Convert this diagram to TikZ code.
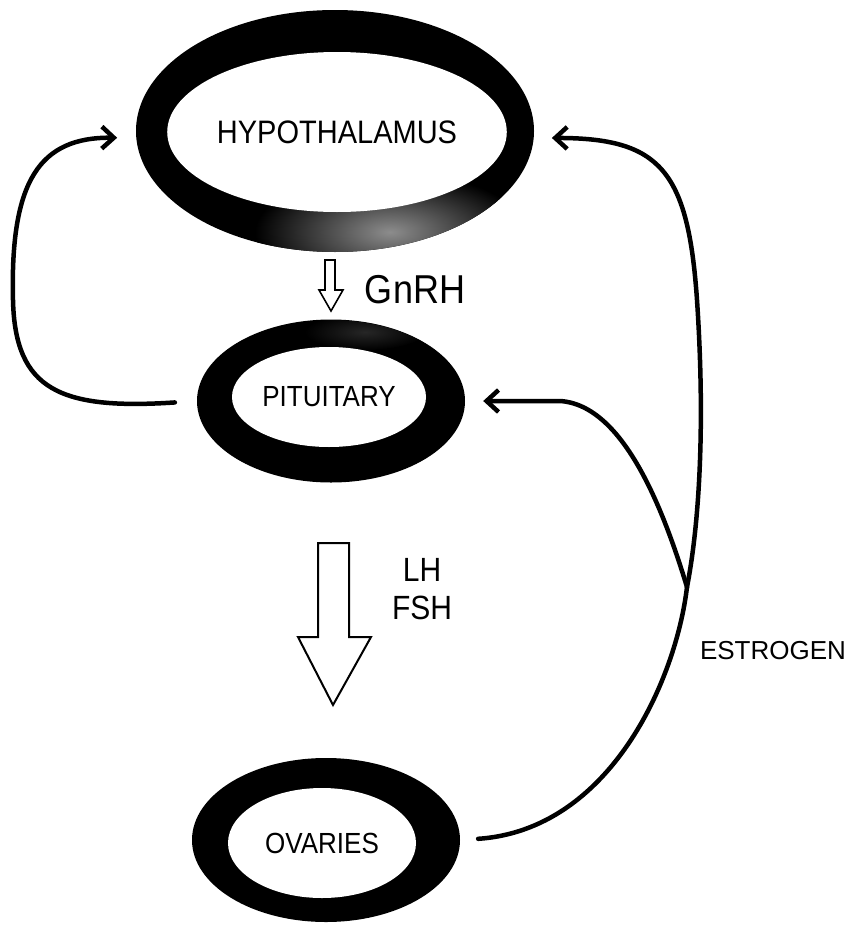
\documentclass[tikz,border=0pt]{standalone}
\usepackage{fontspec}
\setmainfont{Liberation Sans}
\usepackage{graphicx}
\usetikzlibrary{shapes.geometric, arrows.meta, positioning, calc}
\newcommand{\tall}[1]{\scalebox{1}[1.12]{#1}}
\tikzstyle{ring} = [ellipse, fill=black, inner sep=0pt]
\tikzstyle{core} = [ellipse, fill=white, inner sep=0pt, text centered]
\tikzstyle{hollow} = [draw=black, line width=1.6pt, fill=white, line join=miter]
\tikzstyle{feed} = [line width=4.5pt, line cap=round]
\tikzstyle{arrow} = [feed, -{Straight Barb[length=12pt, width=22pt]}]

\begin{document}
\begin{tikzpicture}[x=1pt, y=-1pt]
        \useasboundingbox (0,0) rectangle (855,926);

        % Glands (Center Column)
        \node (hypo) [ring, minimum width=398pt, minimum height=242pt] at (335,131) {};
        \begin{scope}
            \clip (335,131) ellipse [x radius=199, y radius=121];
            \shade [inner color=black!45, outer color=black] (390,232) ellipse [x radius=135, y radius=60];
        \end{scope}
        \node (hypocore) [core, minimum width=304pt, minimum height=160pt, font=\fontsize{29}{33}\selectfont] at (337,132) {\tall{HYPOTHALAMUS}};

        \node (pit) [ring, minimum width=268pt, minimum height=163pt] at (331,401) {};
        \begin{scope}
            \clip (331,401) ellipse [x radius=134, y radius=81];
            \shade [inner color=black!85, outer color=black] (365,332) ellipse [x radius=60, y radius=18];
        \end{scope}
        \node (pitcore) [core, minimum width=194pt, minimum height=100pt, font=\fontsize{26}{30}\selectfont] at (329,397) {\tall{PITUITARY}};

        \node (ova) [ring, minimum width=268pt, minimum height=164pt] at (326,840) {};
        \node (ovacore) [core, minimum width=188pt, minimum height=110pt, font=\fontsize{26}{30}\selectfont] at (322,843) {\tall{OVARIES}};

        % Hormone arrows
        \draw [hollow] (325,260) -- (325,290) -- (319,290) -- (331,311) -- (343,290) -- (335,290) -- (335,260) -- cycle;
        \node (gnrh) [font=\fontsize{36}{40}\selectfont] at (415,290) {\tall{GnRH}};

        \draw [hollow, line width=2pt] (318,543) -- (318,637) -- (298,637) -- (333,705) -- (371,637) -- (349,637) -- (349,543) -- cycle;
        \node (lhfsh) [align=center, font=\fontsize{30}{38}\selectfont] at (422,589) {\tall{LH}\\\tall{FSH}};

        % Feedback loops
        \draw [arrow, shorten <=22pt, shorten >=19pt] (pit.west) .. controls (60,410) and (15,390) .. (13,300) .. controls (10,180) and (40,137) .. (hypo.182);

        \coordinate (split) at (687,587);
        \draw [feed, shorten <=18pt] (ova.east) .. controls (610,830) and (676,680) .. (split);
        \draw [arrow, shorten >=18pt] (split) .. controls (700,520) and (705,420) .. (697,300) .. controls (688,170) and (660,138) .. (hypo.358);
        \draw [arrow, shorten >=18pt] (split) .. controls (665,515) and (625,405) .. (560,401) -- (pit.east);

        \node (estro) [font=\fontsize{26}{30}\selectfont] at (773,651) {ESTROGEN};

    \end{tikzpicture}
\end{document}
